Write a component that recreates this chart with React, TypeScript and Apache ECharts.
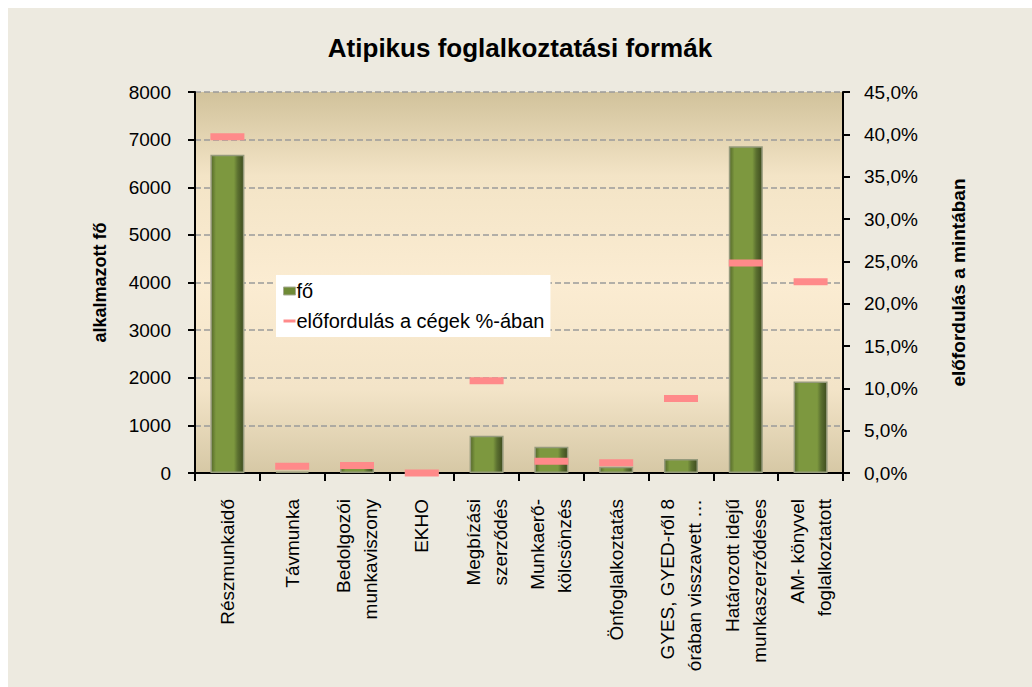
import React, { useEffect, useRef } from "react";
import * as echarts from "echarts";

const categories = [
  "Részmunkaidő",
  "Távmunka",
  "Bedolgozói\nmunkaviszony",
  "EKHO",
  "Megbízási\nszerződés",
  "Munkaerő-\nkölcsönzés",
  "Önfoglalkoztatás",
  "GYES, GYED-ről 8\nórában visszavett …",
  "Határozott idejű\nmunkaszerződéses",
  "AM- könyvel\nfoglalkoztatott",
];
const foValues = [6680, 30, 130, 0, 780, 550, 130, 295, 6860, 1920];
const pctValues = [39.7, 0.8, 0.9, 0, 10.9, 1.4, 1.2, 8.8, 24.8, 22.6];
const leftTicks = { min: 0, max: 8000, interval: 1000 };
const rightTicks = { min: 0, max: 45, interval: 5 };

const FONT = "Liberation Sans, Arial, sans-serif";

export default function App() {
  const ref = useRef<HTMLDivElement>(null);
  useEffect(() => {
    if (!ref.current) return;
    const chart = echarts.init(ref.current, undefined, { renderer: "svg" });
    chart.setOption({
      animation: false,
      backgroundColor: "#edeae0",
      textStyle: { fontFamily: FONT, color: "#000" },
      title: {
        text: "Atipikus foglalkoztatási formák",
        left: "center",
        top: 22,
        textStyle: { fontSize: 26, fontWeight: "bold", color: "#000", fontFamily: FONT },
      },
      legend: {
        orient: "vertical",
        left: 268,
        top: 267,
        backgroundColor: "#ffffff",
        padding: [6, 6, 6, 7],
        itemGap: 10,
        itemWidth: 12,
        itemHeight: 8,
        textStyle: { fontSize: 20, color: "#000", fontFamily: FONT, padding: [0, 0, 0, -4] },
        data: [
          { name: "fő", icon: "rect", itemStyle: { color: "#6f8a36", borderColor: "#a7ab94", borderWidth: 1 } },
          { name: "előfordulás a cégek %-ában", icon: "path://M0,3 L12,3 L12,6 L0,6 Z", itemStyle: { color: "#ff8a8a" } },
        ],
      },
      grid: {
        left: 187,
        right: 189,
        top: 84,
        bottom: 214,
        show: true,
        borderWidth: 0,
        backgroundColor: {
          type: "linear",
          x: 0, y: 0, x2: 0, y2: 1,
          colorStops: [
            { offset: 0, color: "#d1c29b" },
            { offset: 0.22, color: "#f3e4c6" },
            { offset: 0.5, color: "#fbecd2" },
            { offset: 0.78, color: "#f3e4c8" },
            { offset: 1, color: "#d6c8a5" },
          ],
        },
      },
      xAxis: {
        type: "category",
        data: categories,
        boundaryGap: true,
        axisLine: { lineStyle: { color: "#000", width: 2 } },
        axisTick: { show: true, length: 8, lineStyle: { color: "#000", width: 2 } },
        axisLabel: {
          rotate: 90,
          interval: 0,
          margin: 26,
          fontSize: 19,
          lineHeight: 27,
          color: "#000",
          fontFamily: FONT,
        },
      },
      yAxis: [
        {
          type: "value",
          min: leftTicks.min,
          max: leftTicks.max,
          interval: leftTicks.interval,
          name: "alkalmazott fő",
          nameLocation: "middle",
          nameRotate: 90,
          nameGap: 86,
          nameTextStyle: { fontSize: 18, fontWeight: "bold", color: "#000", fontFamily: FONT },
          axisLine: { show: true, lineStyle: { color: "#000", width: 2 } },
          axisTick: { show: true, length: 7, lineStyle: { color: "#000", width: 2 } },
          axisLabel: {
            fontSize: 19,
            color: "#000",
            margin: 24,
            fontFamily: FONT,
            formatter: (v: number) => String(v),
          },
          splitLine: { show: true, lineStyle: { color: "#9a9a9a", width: 1.5, type: [6, 3] } },
        },
        {
          type: "value",
          min: rightTicks.min,
          max: rightTicks.max,
          interval: rightTicks.interval,
          position: "right",
          name: "előfordulás a mintában",
          nameLocation: "middle",
          nameRotate: 90,
          nameGap: 106,
          nameTextStyle: { fontSize: 19, fontWeight: "bold", color: "#000", fontFamily: FONT },
          axisLine: { show: true, lineStyle: { color: "#000", width: 2 } },
          axisTick: { show: true, length: 7, lineStyle: { color: "#000", width: 2 } },
          axisLabel: {
            fontSize: 19,
            color: "#000",
            margin: 21,
            fontFamily: FONT,
            formatter: (v: number) => v.toFixed(1).replace(".", ",") + "%",
          },
          splitLine: { show: false },
        },
      ],
      series: [
        {
          name: "fő",
          type: "bar",
          yAxisIndex: 0,
          data: foValues,
          barWidth: 34,
          itemStyle: {
            borderColor: "#959a7c",
            borderWidth: 1.5,
            color: {
              type: "linear",
              x: 0, y: 0, x2: 1, y2: 0,
              colorStops: [
                { offset: 0, color: "#55692a" },
                { offset: 0.15, color: "#7d983f" },
                { offset: 0.7, color: "#7d983f" },
                { offset: 0.82, color: "#5b7030" },
                { offset: 1, color: "#3e4c1e" },
              ],
            },
          },
        },
        {
          name: "előfordulás a cégek %-ában",
          type: "scatter",
          yAxisIndex: 1,
          data: pctValues,
          symbol: "rect",
          symbolSize: [34, 7],
          itemStyle: { color: "#ff8a8a", opacity: 1 },
          z: 5,
        },
      ],
    });
    return () => chart.dispose();
  }, []);
  return (
    <div
      ref={ref}
      style={{ position: "fixed", left: 8, top: 8, width: 1024, height: 679 }}
    />
  );
}
